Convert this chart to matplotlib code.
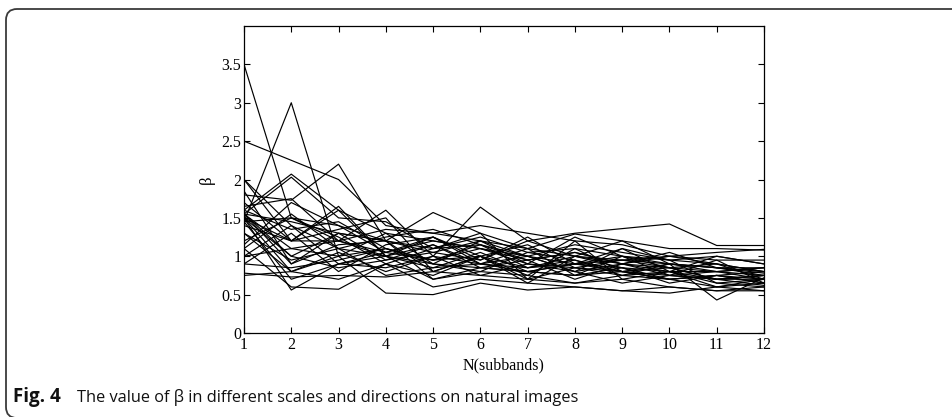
import matplotlib
matplotlib.use("Agg")
import matplotlib.pyplot as plt
from matplotlib.patches import FancyBboxPatch
from matplotlib.transforms import IdentityTransform

# x positions (subband index)
subbands = list(range(1, 13))

# beta values per image (approximate)
s01 = [3.5, 1.5, 1.2, 1.0, 0.9, 0.85, 0.8, 0.75, 0.8, 0.7, 0.75, 0.7]
s02 = [1.45, 3.0, 1.0, 1.1, 0.95, 1.0, 0.85, 0.9, 0.8, 0.85, 0.7, 0.75]
s03 = [2.5, 2.25, 2.0, 1.4, 1.3, 1.2, 1.1, 1.0, 0.95, 0.9, 0.85, 0.8]
s04 = [1.8, 1.73, 2.2, 1.2, 1.1, 1.15, 0.95, 1.05, 0.9, 0.8, 0.8, 0.75]
s05 = [1.6, 2.07, 1.6, 1.3, 1.2, 1.1, 1.0, 0.9, 0.95, 0.85, 0.9, 0.8]
s06 = [1.55, 2.03, 1.5, 1.45, 1.1, 1.25, 1.05, 1.1, 1.0, 0.9, 0.85, 0.85]
s07 = [2.0, 1.4, 1.1, 1.0, 0.85, 0.9, 0.8, 0.75, 0.85, 0.7, 0.75, 0.65]
s08 = [2.0, 1.2, 1.65, 1.0, 1.25, 0.9, 1.0, 0.8, 0.9, 0.75, 0.7, 0.7]
s09 = [1.85, 0.9, 1.3, 1.2, 0.8, 1.0, 0.7, 0.85, 0.75, 0.8, 0.65, 0.7]
s10 = [1.5, 0.56, 0.9, 1.0, 0.7, 0.8, 0.75, 0.65, 0.7, 0.6, 0.55, 0.6]
s11 = [0.78, 0.73, 0.75, 0.73, 0.8, 0.75, 0.7, 0.65, 0.75, 0.7, 0.6, 0.65]
s12 = [1.1, 0.6, 0.57, 0.9, 0.6, 0.7, 0.65, 0.6, 0.55, 0.6, 0.55, 0.55]
s13 = [1.5, 0.8, 1.0, 0.52, 0.5, 0.65, 0.56, 0.6, 0.55, 0.52, 0.6, 0.55]
s14 = [1.4, 1.2, 1.2, 1.6, 1.0, 1.64, 1.2, 1.3, 1.36, 1.42, 1.14, 1.14]
s15 = [1.2, 1.5, 1.4, 1.2, 1.57, 1.3, 1.1, 1.29, 1.2, 1.1, 1.1, 1.08]
s16 = [1.0, 1.1, 1.2, 1.35, 1.3, 1.4, 1.3, 1.2, 1.15, 1.0, 1.05, 1.09]
s17 = [0.9, 1.3, 0.8, 1.15, 1.25, 0.95, 1.2, 1.0, 1.2, 0.9, 0.8, 0.85]
s18 = [1.55, 1.45, 1.3, 1.2, 1.05, 1.2, 0.9, 1.25, 1.0, 0.95, 0.9, 0.8]
s19 = [1.5, 1.0, 0.85, 0.95, 1.15, 0.85, 0.95, 0.7, 0.9, 0.85, 0.7, 0.75]
s20 = [1.6, 1.35, 1.45, 1.1, 0.95, 1.15, 0.85, 0.95, 0.8, 0.75, 0.8, 0.7]
s21 = [1.45, 0.7, 0.9, 0.85, 1.0, 0.75, 0.9, 0.8, 0.65, 0.75, 0.7, 0.75]
s22 = [1.3, 0.95, 1.1, 0.75, 0.85, 1.05, 0.8, 0.9, 0.85, 0.65, 0.75, 0.65]
s23 = [0.9, 0.85, 0.95, 1.1, 0.9, 0.8, 1.05, 0.95, 0.75, 0.9, 0.85, 0.75]
s24 = [1.1, 1.55, 1.1, 1.25, 1.35, 1.15, 1.0, 1.15, 1.05, 0.95, 1.0, 0.9]
s25 = [1.7, 1.2, 1.35, 1.5, 0.8, 1.0, 0.75, 1.1, 0.8, 0.7, 0.75, 0.8]
s26 = [1.55, 1.1, 1.0, 1.3, 0.9, 1.2, 1.0, 0.8, 1.1, 0.95, 0.65, 0.6]
s27 = [1.65, 1.75, 1.2, 1.05, 1.25, 1.0, 1.15, 0.85, 0.95, 1.0, 0.9, 0.7]
s28 = [1.45, 1.5, 1.25, 0.9, 1.1, 1.3, 0.7, 1.2, 0.7, 0.8, 0.6, 0.7]
s29 = [1.3, 0.8, 1.05, 0.8, 1.0, 0.9, 1.1, 0.75, 1.0, 0.75, 0.95, 0.65]
s30 = [0.75, 0.8, 0.7, 0.9, 0.75, 1.0, 0.65, 1.0, 0.85, 0.8, 0.7, 0.62]
s31 = [1.5, 1.2, 1.6, 1.0, 1.15, 0.9, 0.85, 1.0, 0.9, 1.05, 0.85, 0.78]
s32 = [1.55, 0.9, 1.15, 1.2, 0.7, 0.85, 0.8, 0.9, 1.0, 0.85, 0.8, 0.85]
s33 = [1.0, 1.4, 0.9, 1.05, 1.2, 1.1, 0.95, 1.05, 0.9, 1.0, 0.95, 0.95]
s34 = [1.55, 1.0, 1.3, 0.95, 1.05, 0.95, 1.25, 0.9, 1.1, 0.8, 1.0, 0.9]
s35 = [1.15, 1.7, 1.4, 1.05, 0.95, 1.1, 0.9, 0.85, 0.8, 0.9, 0.43, 0.72]

all_series = [s01, s02, s03, s04, s05, s06, s07, s08, s09, s10, s11, s12,
              s13, s14, s15, s16, s17, s18, s19, s20, s21, s22, s23, s24,
              s25, s26, s27, s28, s29, s30, s31, s32, s33, s34, s35]

x_ticks = list(range(1, 13))
y_ticks = [0, 0.5, 1, 1.5, 2, 2.5, 3, 3.5]
y_tick_labels = ["0", "0.5", "1", "1.5", "2", "2.5", "3", "3.5"]

W, H = 953, 417
fig = plt.figure(figsize=(W / 100, H / 100), dpi=100)
fig.patch.set_facecolor("white")

# rounded frame (pixel coordinates)
frame = FancyBboxPatch((6, -1), 990, 408 + 1,
                       boxstyle="round,pad=0,rounding_size=11",
                       transform=IdentityTransform(), fill=False,
                       edgecolor="#3a3a3a", linewidth=1.3, zorder=0)
fig.patches.append(frame)

ax = fig.add_axes([244 / W, (H - 333) / H, (764 - 244) / W, (333 - 26) / H])
for s in all_series:
    ax.plot(subbands, s, color="black", linewidth=0.85)

ax.set_xlim(1, 12)
ax.set_ylim(0, 4)
ax.set_xticks(x_ticks)
ax.set_yticks(y_ticks)
ax.set_yticklabels(y_tick_labels)

serif = "Liberation Serif"
for lab in ax.get_xticklabels() + ax.get_yticklabels():
    lab.set_fontfamily(serif)
    lab.set_fontsize(11.5)
ax.tick_params(direction="in", top=True, right=True, length=4.5, width=0.8)
ax.tick_params(axis="x", pad=3)
ax.tick_params(axis="y", pad=2)
for sp in ax.spines.values():
    sp.set_linewidth(0.9)

ax.set_xlabel("N(subbands)", fontfamily=serif, fontsize=11.5, labelpad=3)
ax.set_ylabel("β", fontfamily=serif, fontsize=12, labelpad=5)

# caption
fig.text(13 / W, 1 - 397 / H, "Fig. 4", fontfamily="Open Sans", fontweight="bold",
         fontsize=13.5, va="center", ha="left", color="#111111")
fig.text(77 / W, 1 - 397 / H,
         "The value of β in different scales and directions on natural images",
         fontfamily="Open Sans", fontsize=11.8, va="center", ha="left",
         color="#111111")

fig.savefig("out.png", dpi=100)
